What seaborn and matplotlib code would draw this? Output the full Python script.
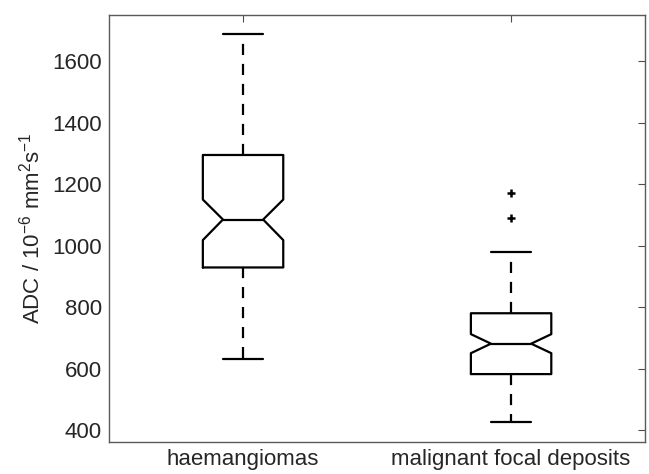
import matplotlib
matplotlib.use("Agg")
import matplotlib.pyplot as plt
import seaborn as sns

# summary statistics (ADC, 10^-6 mm^2/s)
groups = ["haemangiomas", "malignant focal deposits"]
medians = [1085, 681]
q1 = [929, 582]
q3 = [1295, 780]
whisker_lo = [630, 426]
whisker_hi = [1690, 980]
notch_lo = [1018, 650]
notch_hi = [1150, 712]
outliers = [[], [1090, 1172]]
yticks = [400, 600, 800, 1000, 1200, 1400, 1600]

sns.set_style("white")
plt.rcParams['font.family'] = ['Liberation Sans', 'DejaVu Sans']
plt.rcParams['mathtext.default'] = 'regular'

stats = []
for i, name in enumerate(groups):
    stats.append(dict(label=name, med=medians[i], q1=q1[i], q3=q3[i],
                      whislo=whisker_lo[i], whishi=whisker_hi[i],
                      cilo=notch_lo[i], cihi=notch_hi[i], fliers=outliers[i]))

fig = plt.figure(figsize=(6.49, 4.74), dpi=100)
ax = fig.add_axes([0.168, 0.0675, 0.826, 0.9005])

lw = 1.6
ax.bxp(stats, positions=[1, 2], widths=0.30, capwidths=0.15, shownotches=True,
       boxprops=dict(color='black', linewidth=lw),
       medianprops=dict(color='black', linewidth=lw),
       whiskerprops=dict(color='black', linewidth=lw, linestyle=(0, (5.0, 4.0))),
       capprops=dict(color='black', linewidth=lw),
       flierprops=dict(marker='+', markeredgecolor='black', markersize=6,
                       markeredgewidth=1.8, linestyle='none'))

ax.set_xlim(0.5, 2.5)
ax.set_ylim(361, 1750)
ax.set_yticks(yticks)
ax.set_xticks([1, 2])
ax.set_xticklabels(groups)
ax.set_ylabel('ADC / 10$^{-6}$ mm$^2$s$^{-1}$', fontsize=16, color='#262626', labelpad=6)
ax.tick_params(axis='both', direction='in', length=5, width=0.8, color='#4d4d4d',
               labelsize=16, labelcolor='#262626', top=True, right=True, pad=5)
for s in ax.spines.values():
    s.set_visible(True)
    s.set_color('#5a5a5a')
    s.set_linewidth(1.0)

fig.savefig('out.png', dpi=100)
